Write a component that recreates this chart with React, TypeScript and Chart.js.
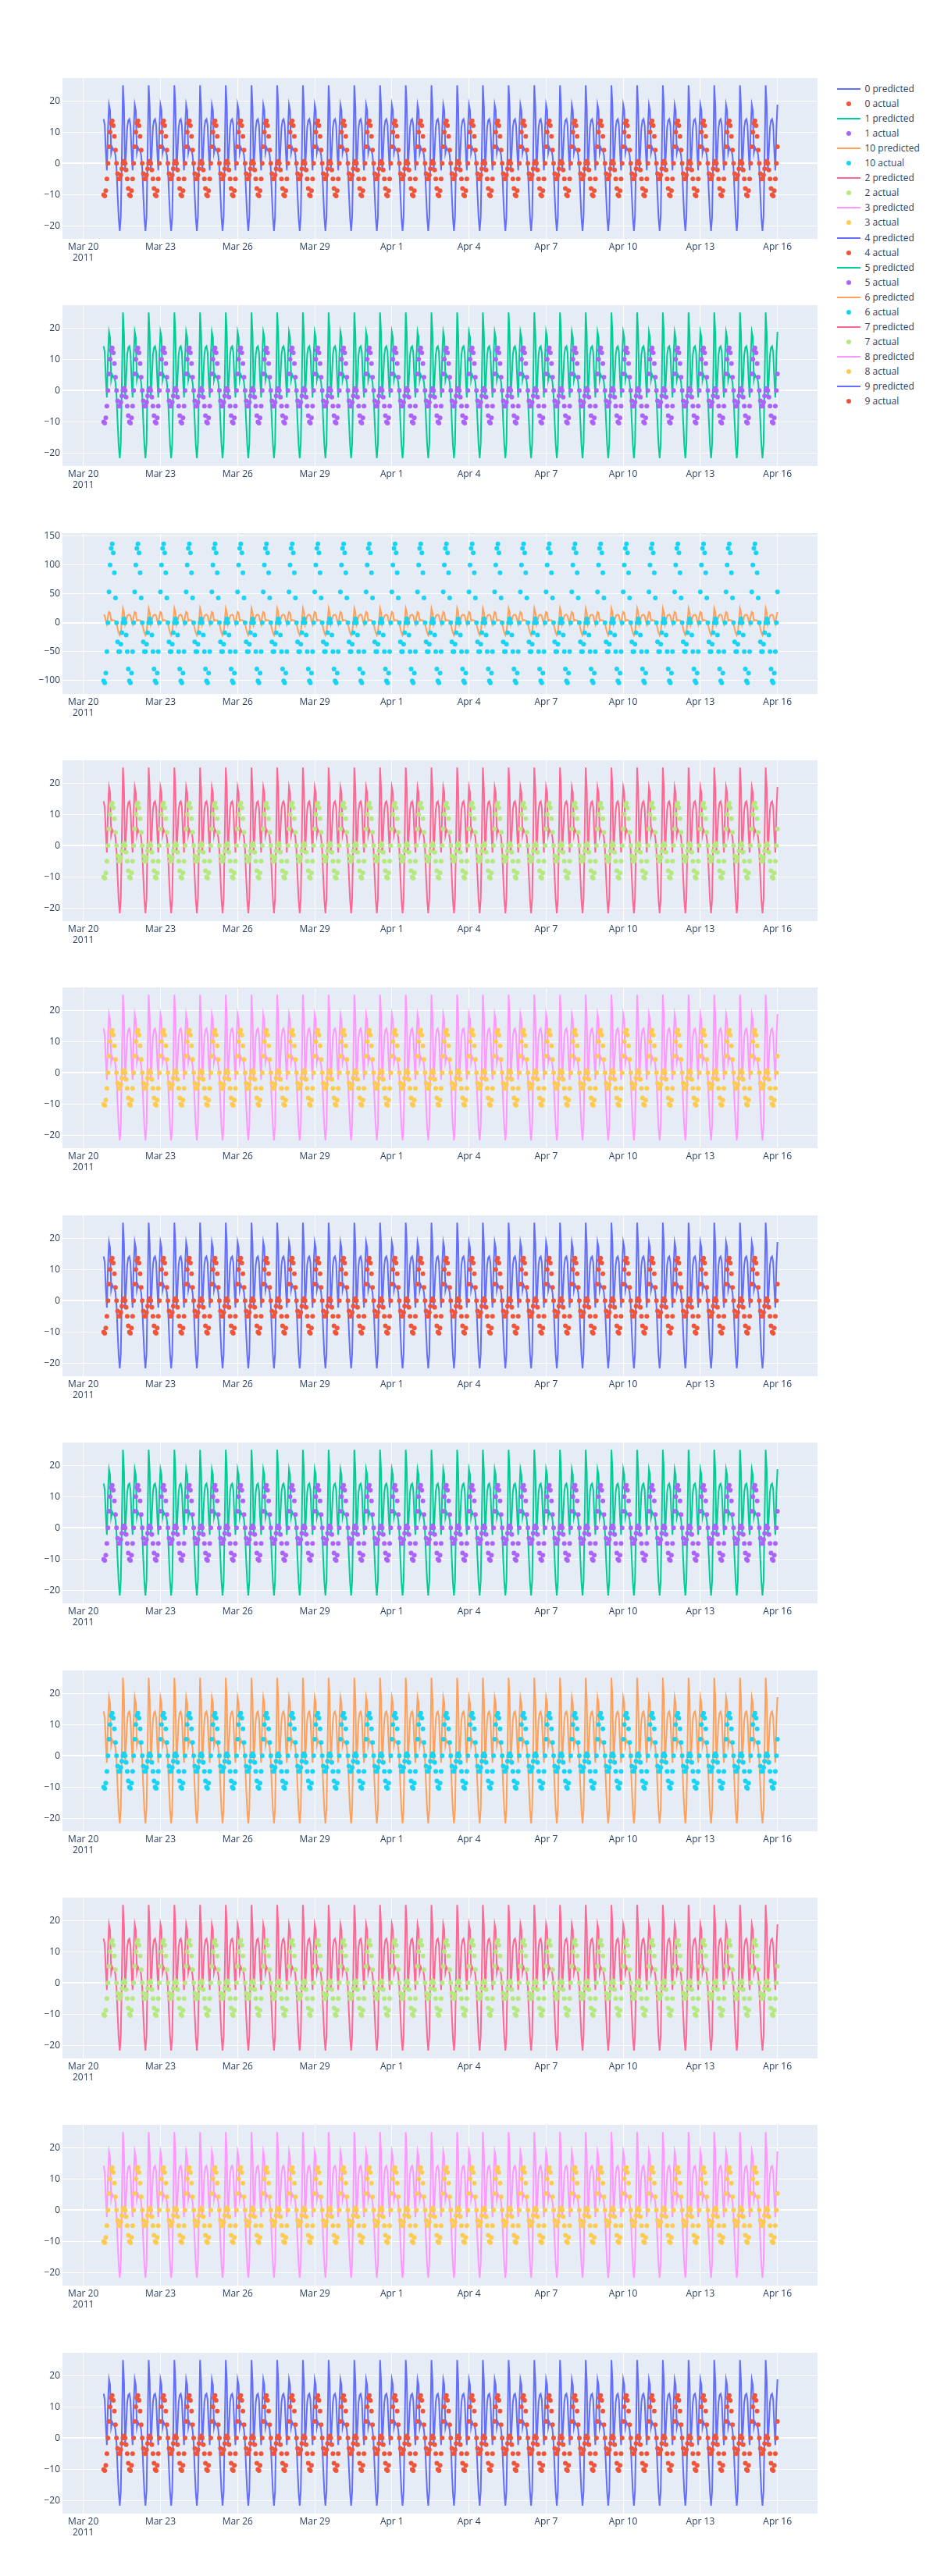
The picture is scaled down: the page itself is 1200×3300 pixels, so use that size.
import React, { useEffect, useRef } from "react";
import { Chart, registerables } from "chart.js";

Chart.register(...registerables);

// ---- data ----
// subplot order top→bottom (also legend order)
const seriesNames = ["0", "1", "10", "2", "3", "4", "5", "6", "7", "8", "9"];
const predictedColors = ["#636efa", "#00cc96", "#FFA15A", "#FF6692", "#FF97FF", "#636efa", "#00cc96", "#FFA15A", "#FF6692", "#FF97FF", "#636efa"];
const actualColors = ["#EF553B", "#ab63fa", "#19d3f3", "#B6E880", "#FECB52", "#EF553B", "#ab63fa", "#19d3f3", "#B6E880", "#FECB52", "#EF553B"];

// hourly daily profile, hour 0 = 19:00
const predictedProfile = [14.2, 12.3, 4, -2.2, 11, 18.8, 17, 3.4, 5.1, 4.3, 4.3, 2.6, -1.6, -10, -17.4, -21.6, -17, 3, 25, 18, -2.6, 4.2, 11.5, 13.8];
const actualProfile = [-10.05, -10.4, -8.7, -5, 0, 5.36, 10, 12.9, 13.65, 12.1, 8.66, 4.3, 0, -3.3, -5, -5, -3.7, -1.7, 0, 0.7, 0, -2.1, -5, -8];
const actualProfile10 = [-100.5, -104, -87, -50, 0, 53.6, 100, 129, 136.5, 121, 86.5, 43, 0, -33, -50, -50, -37, -17, 0, 7, 0, -21, -50, -80];

const firstHour = 19; // first sample: Mar 20 2011, 19:00
const pointCount = 630; // hourly samples through Apr 16 00:00

// x axis in days since Mar 20 2011 00:00
const xTickValues = [0, 3, 6, 9, 12, 15, 18, 21, 24, 27];
const xTickLabels: (string | string[])[] = [["Mar 20", "2011"], "Mar 23", "Mar 26", "Mar 29", "Apr 1", "Apr 4", "Apr 7", "Apr 10", "Apr 13", "Apr 16"];
const xRange = [-0.811, 28.558];

const yTicksSmall = [-20, -10, 0, 10, 20];
const yTicksLarge = [-100, -50, 0, 50, 100, 150];
const yRangeSmall = [-24.14, 27.31];
const yRangeLarge = [-123.2, 155.2];

// ---- layout ----
const FONT = '"Open Sans", verdana, arial, sans-serif';
const TEXT = "#2a3f5f";
const PLOT_TOP0 = 100;
const ROW_STEP = 291.36;
const PLOT_H = 206;
const PAD_TOP = 14;
const XAXIS_H = 60;
const CANVAS_W = 1060;
const PLOT_RIGHT = 1047;

const fmt = (v: number) => (v < 0 ? "\u2212" + Math.abs(v) : String(v));

const bgPlugin = {
  id: "plotBg",
  beforeDraw(chart: any) {
    const { ctx, chartArea: a } = chart;
    ctx.save();
    ctx.fillStyle = "#E5ECF6";
    ctx.fillRect(a.left, a.top, a.right - a.left, a.bottom - a.top);
    ctx.restore();
  },
};

function buildSeries(profile: number[]) {
  const pts: { x: number; y: number }[] = [];
  for (let i = 0; i < pointCount; i++) {
    pts.push({ x: (firstHour + i) / 24, y: profile[i % profile.length] });
  }
  return pts;
}

function SubPlot({ row }: { row: number }) {
  const ref = useRef<HTMLCanvasElement>(null);
  const top = Math.round(PLOT_TOP0 + ROW_STEP * row) - PAD_TOP;
  const height = PAD_TOP + PLOT_H + XAXIS_H;

  useEffect(() => {
    const large = seriesNames[row] === "10";
    const yTicks = large ? yTicksLarge : yTicksSmall;
    const yRange = large ? yRangeLarge : yRangeSmall;
    const chart = new Chart(ref.current as HTMLCanvasElement, {
      type: "scatter",
      data: {
        datasets: [
          {
            label: seriesNames[row] + " predicted",
            data: buildSeries(predictedProfile),
            showLine: true,
            borderColor: predictedColors[row],
            backgroundColor: predictedColors[row],
            borderWidth: 2,
            pointRadius: 0,
            pointHoverRadius: 0,
            tension: 0,
            order: 2,
          } as any,
          {
            label: seriesNames[row] + " actual",
            data: buildSeries(large ? actualProfile10 : actualProfile),
            showLine: false,
            backgroundColor: actualColors[row],
            borderWidth: 0,
            pointRadius: 3,
            pointHoverRadius: 3,
            order: 1,
          } as any,
        ],
      },
      options: {
        responsive: false,
        animation: false,
        devicePixelRatio: 1,
        events: [],
        layout: { padding: { left: 0, right: CANVAS_W - PLOT_RIGHT, top: PAD_TOP, bottom: 0 } },
        plugins: { legend: { display: false }, tooltip: { enabled: false } },
        scales: {
          x: {
            type: "linear",
            min: xRange[0],
            max: xRange[1],
            grid: { color: "#ffffff", lineWidth: 1, drawTicks: false },
            border: { display: false },
            ticks: {
              autoSkip: false,
              maxRotation: 0,
              minRotation: 0,
              padding: 3,
              color: TEXT,
              font: { family: FONT, size: 12 },
              callback: (v: any) => {
                const i = xTickValues.indexOf(Number(v));
                return i >= 0 ? xTickLabels[i] : "";
              },
            },
            afterBuildTicks: (s: any) => {
              s.ticks = xTickValues.map((v) => ({ value: v }));
            },
            afterFit: (s: any) => {
              s.height = XAXIS_H;
            },
          },
          y: {
            type: "linear",
            min: yRange[0],
            max: yRange[1],
            grid: {
              color: "#ffffff",
              lineWidth: (c: any) => (c.tick && c.tick.value === 0 ? 2 : 1),
              drawTicks: false,
            },
            border: { display: false },
            ticks: {
              padding: 3,
              color: TEXT,
              font: { family: FONT, size: 12 },
              callback: (v: any) => fmt(Number(v)),
            },
            afterBuildTicks: (s: any) => {
              s.ticks = yTicks.map((v) => ({ value: v }));
            },
            afterFit: (s: any) => {
              s.width = 80;
            },
          },
        },
      } as any,
      plugins: [bgPlugin],
    });
    return () => chart.destroy();
  }, [row]);

  return (
    <canvas
      ref={ref}
      width={CANVAS_W}
      height={height}
      style={{ position: "absolute", left: 0, top, width: CANVAS_W, height, display: "block" }}
    />
  );
}

function Legend() {
  const items: { label: string; color: string; kind: "line" | "dot" }[] = [];
  seriesNames.forEach((n, i) => {
    items.push({ label: n + " predicted", color: predictedColors[i], kind: "line" });
    items.push({ label: n + " actual", color: actualColors[i], kind: "dot" });
  });
  return (
    <>
      {items.map((it, i) => {
        const cy = 114.3 + 19.02 * i;
        return (
          <React.Fragment key={i}>
            {it.kind === "line" ? (
              <div style={{ position: "absolute", left: 1072, top: cy - 1, width: 30, height: 2, background: it.color }} />
            ) : (
              <div style={{ position: "absolute", left: 1084, top: cy - 3, width: 6, height: 6, borderRadius: "50%", background: it.color }} />
            )}
            <div
              style={{
                position: "absolute",
                left: 1107.5,
                top: cy - 9,
                height: 18,
                lineHeight: "18px",
                fontFamily: FONT,
                fontSize: 12,
                color: TEXT,
                whiteSpace: "nowrap",
              }}
            >
              {it.label}
            </div>
          </React.Fragment>
        );
      })}
    </>
  );
}

export default function App() {
  return (
    <div style={{ position: "absolute", left: 0, top: 0, width: 1200, height: 3300, background: "#ffffff", overflow: "hidden" }}>
      {seriesNames.map((_, r) => (
        <SubPlot key={r} row={r} />
      ))}
      <Legend />
    </div>
  );
}
